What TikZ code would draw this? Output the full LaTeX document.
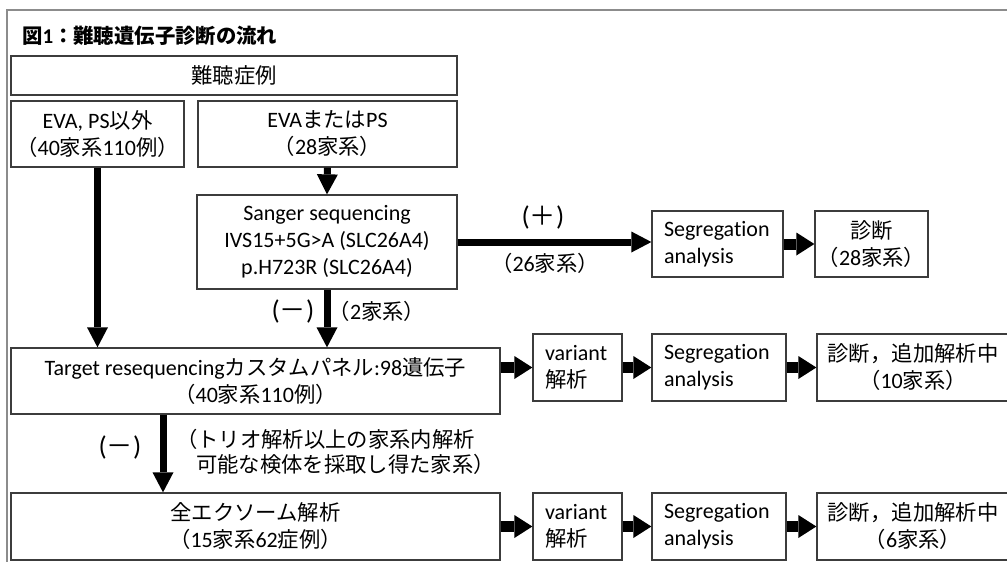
\documentclass[tikz,border=0pt]{standalone}
\usepackage{fontspec}
\setmainfont{Carlito}[Ligatures={NoCommon,NoContextual}]
\newfontfamily\cjk[Scale=0.97]{Noto Sans CJK JP}
\newcommand\J[1]{{\cjk #1}}
\usetikzlibrary{arrows.meta}
\definecolor{boxline}{HTML}{3C3C3C}
\definecolor{framegray}{HTML}{8C8C8C}

\begin{document}
\begin{tikzpicture}[x=1pt,y=-1pt,
  txt/.style={inner sep=0pt, font=\fontsize{22}{27}\selectfont},
  box/.style={txt, draw=boxline, line width=1.3pt, align=center},
  lbox/.style={box, align=left, inner xsep=12pt},
  sign/.style={inner sep=0pt, font=\fontsize{27}{30}\selectfont},
  bigarrow/.style={line width=7pt, -{Triangle[length=20pt,width=21pt,line width=0pt]}},
  smallarrow/.style={line width=11pt, -{Triangle[length=18pt,width=23pt,line width=0pt]}}]

\useasboundingbox (0,0) rectangle (1007,562);
\clip (0,0) rectangle (1007,562);

% outer frame
\draw[framegray, line width=2pt] (7,580) -- (7,10) -- (1020,10);

% title
\node[anchor=west, inner sep=0pt, font=\fontsize{21}{25}\selectfont\bfseries] (title) at (22,36)
  {\J{図}1\J{：難聴遺伝子診断の流れ}};

% boxes
\node[box, minimum width=446pt, minimum height=39pt] (root) at (234,75.5) {\J{難聴症例}};
\node[box, minimum width=173pt, minimum height=66pt] (evano) at (97.5,134)
  {EVA, PS\J{以外}\\\J{（}40\J{家系}110\J{例）}};
\node[box, minimum width=259pt, minimum height=66pt] (evayes) at (327.5,134)
  {EVA\J{または}PS\\\J{（}28\J{家系）}};
\node[box, minimum width=260pt, minimum height=94pt] (sanger) at (327,242)
  {Sanger sequencing\\IVS15+5G>A (SLC26A4)\\p.H723R (SLC26A4)};
\node[lbox, text width=107pt, minimum height=66pt] (seg1) at (717.5,244)
  {Segregation\\analysis};
\node[box, minimum width=113pt, minimum height=66pt] (diag1) at (871.5,244)
  {\J{診断}\\\J{（}28\J{家系）}};

\node[box, minimum width=489pt, minimum height=66pt] (target) at (255.5,381)
  {Target resequencing\J{カスタムパネル}:98\J{遺伝子}\\\J{（}40\J{家系}110\J{例）}};
\node[lbox, text width=65pt, minimum height=67pt] (var2) at (577.5,367.5)
  {variant\\\J{解析}};
\node[lbox, text width=110pt, minimum height=67pt] (seg2) at (719,367.5)
  {Segregation\\analysis};
\node[box, minimum width=192pt, minimum height=67pt] (diag2) at (913,367.5)
  {\J{診断，追加解析中}\\\J{（}10\J{家系）}};

\node[box, minimum width=489pt, minimum height=67pt] (exome) at (255.5,526.5)
  {\J{全エクソーム解析}\\\J{（}15\J{家系}62\J{症例）}};
\node[lbox, text width=65pt, minimum height=67pt] (var3) at (577.5,526.5)
  {variant\\\J{解析}};
\node[lbox, text width=110pt, minimum height=67pt] (seg3) at (719,526.5)
  {Segregation\\analysis};
\node[box, minimum width=192pt, minimum height=67pt] (diag3) at (913,526.5)
  {\J{診断，追加解析中}\\\J{（}6\J{家系）}};

% labels
\node[sign] (plus) at (543,217) {(\J{＋})};
\node[txt] (n26) at (545,263) {\J{（}26\J{家系）}};
\node[sign] (minus1) at (293,311) {(\J{－})};
\node[txt] (n2) at (377,311) {\J{（}2\J{家系）}};
\node[sign] (minus2) at (120,447) {(\J{－})};
\node[txt, anchor=west, align=left, font=\fontsize{22}{25}\selectfont] (trio) at (176,452)
  {\J{（トリオ解析以上の家系内解析}\\\hspace{0.9em}\J{可能な検体を採取し得た家系）}};

% connectors
\draw[bigarrow] (evayes.south) -- (sanger.north);
\draw[bigarrow] (evano.south) -- (evano.south |- target.north);
\draw[bigarrow] (sanger.south) -- (sanger.south |- target.north);
\draw[bigarrow] (sanger.east) -- (sanger.east -| seg1.west);
\draw[smallarrow] (seg1.east) -- (diag1.west);
\draw[smallarrow] (target.east |- var2.west) -- (var2.west);
\draw[smallarrow] (var2.east) -- (seg2.west);
\draw[smallarrow] (seg2.east) -- (diag2.west);
\draw[bigarrow] ([xshift=-92.5pt]target.south) -- ([xshift=-92.5pt]target.south |- exome.north);
\draw[smallarrow] (exome.east |- var3.west) -- (var3.west);
\draw[smallarrow] (var3.east) -- (seg3.west);
\draw[smallarrow] (seg3.east) -- (diag3.west);
\end{tikzpicture}
\end{document}
